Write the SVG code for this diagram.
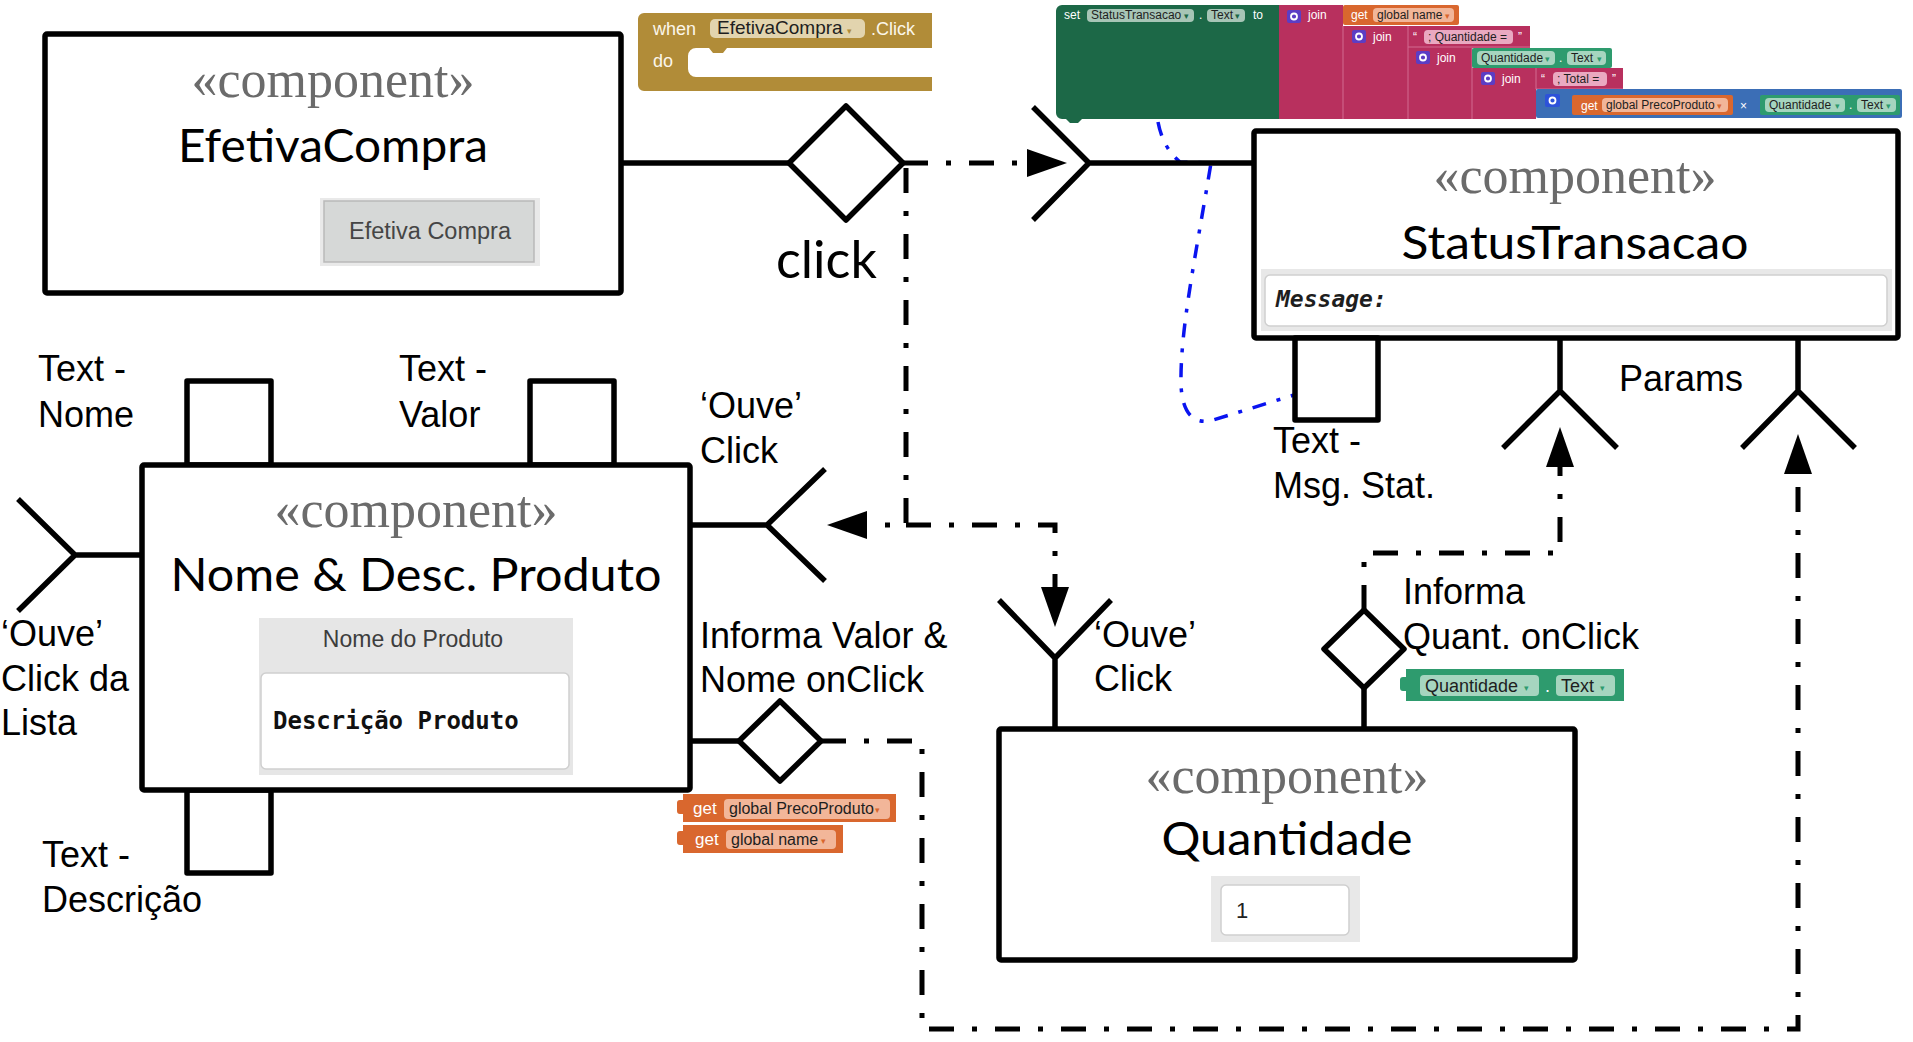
<svg xmlns="http://www.w3.org/2000/svg" width="1913" height="1042" viewBox="0 0 1913 1042">
<style>
.box{fill:#fff;stroke:#000;stroke-width:5.5;stroke-linejoin:round}
.port{fill:#fff;stroke:#000;stroke-width:5.5;stroke-linejoin:round}
.ln{fill:none;stroke:#000;stroke-width:5.5;stroke-linejoin:round}
.dia{fill:#fff;stroke:#000;stroke-width:5.5;stroke-linejoin:round}
.dd{fill:none;stroke:#000;stroke-width:5;stroke-dasharray:25 18 5 18}
.blue{fill:none;stroke:#0a14f0;stroke-width:3.5;stroke-dasharray:14 11 4 11}
.st{font-family:"Liberation Serif",serif;font-size:52px;fill:#6b6b6b;text-anchor:middle}
.tt{font-family:Lato,"Liberation Sans",sans-serif;font-size:46px;fill:#000;text-anchor:middle}
.lb{font-family:"Liberation Sans",Arial,sans-serif;font-size:36px;fill:#000}
.bw{font-family:"Liberation Sans",Arial,sans-serif;font-size:12px;fill:#fff}
.bd{font-family:"Liberation Sans",Arial,sans-serif;font-size:12px;fill:#1e1e1e}
.dv{font-family:"DejaVu Sans",sans-serif;font-size:9px}
.pg{fill:#b8305e}
.gear{fill:#5c3dc4}
.gi{fill:none;stroke:#fff;stroke-width:1.8}
.or{fill:#d9672e}
.orp{fill:#f2b699}
.gr{fill:#2e9b6e}
.grp{fill:#a6d5bf}
.pkp{fill:#eaa9c1}
.sdgp{fill:#a7c5b6}
</style>
<defs>
<marker id="ah" markerUnits="userSpaceOnUse" markerWidth="42" markerHeight="30" refX="0" refY="14" orient="auto">
<path d="M0,0 L40,14 L0,28 Z" fill="#000"/>
</marker>
</defs>

<!-- Blockly: when EfetivaCompra.Click -->
<g id="block-when">
<path d="M644,13 H932 V48 H727 L723,53 H713 L709,48 H696 A8,8 0 0 0 688,56 V69 A8,8 0 0 0 696,77 H932 V91 H644 A6,6 0 0 1 638,85 V19 A6,6 0 0 1 644,13 Z" fill="#b18c38"/>
<text x="653" y="35" font-family="Liberation Sans, Arial, sans-serif" font-size="18" fill="#fbf6ea">when</text>
<rect x="710" y="19" width="155" height="19" rx="5" fill="#e2d4ae"/>
<text x="717" y="34" font-family="Liberation Sans, Arial, sans-serif" font-size="19" fill="#1e1e1e">EfetivaCompra</text>
<text x="847" y="34" class="dv" font-size="13" fill="#b18c38">▾</text>
<text x="871" y="35" font-family="Liberation Sans, Arial, sans-serif" font-size="18" fill="#fbf6ea">.Click</text>
<text x="653" y="67" font-family="Liberation Sans, Arial, sans-serif" font-size="18" fill="#fbf6ea">do</text>
</g>

<!-- Blockly: set StatusTransacao.Text -->
<g id="block-set">
<path d="M1062,5 H1279 V119 H1082 L1078,123 H1070 L1066,119 H1062 A6,6 0 0 1 1056,113 V11 A6,6 0 0 1 1062,5 Z" fill="#1c6847"/>
<text x="1064" y="19" class="bw">set</text>
<rect x="1087" y="9" width="107" height="13" rx="4" class="sdgp"/>
<text x="1091" y="19" class="bd">StatusTransacao</text>
<text x="1184" y="19" class="dv" fill="#1c6847">▾</text>
<text x="1199" y="19" class="bw">.</text>
<rect x="1207" y="9" width="38" height="13" rx="4" class="sdgp"/>
<text x="1211" y="19" class="bd">Text</text>
<text x="1235" y="19" class="dv" fill="#1c6847">▾</text>
<text x="1253" y="19" class="bw">to</text>
<path class="pg" d="M1279,5 H1343 V26 H1530 V48 H1472 V68 H1623 V89 H1536 V119 H1279 Z"/>
<g stroke="#d26b90" stroke-width="1">
<line x1="1343" y1="26" x2="1343" y2="119"/>
<line x1="1408" y1="26" x2="1408" y2="119"/>
<line x1="1472" y1="48" x2="1472" y2="119"/>
<line x1="1408" y1="47" x2="1530" y2="47"/>
<line x1="1536" y1="68" x2="1536" y2="89"/>
<line x1="1536" y1="89" x2="1623" y2="89"/>
</g>
<rect x="1287" y="10" width="14" height="13" rx="2" class="gear"/><circle cx="1294" cy="16.5" r="3" class="gi"/>
<text x="1308" y="19" class="bw">join</text>
<rect x="1343" y="5" width="116" height="20" rx="2" class="or"/>
<text x="1351" y="19" class="bw">get</text>
<rect x="1373" y="8" width="81" height="14" rx="4" class="orp"/>
<text x="1377" y="19" class="bd">global name</text>
<text x="1445" y="19" class="dv" fill="#d9672e">▾</text>
<rect x="1352" y="30" width="14" height="13" rx="2" class="gear"/><circle cx="1359" cy="36.5" r="3" class="gi"/>
<text x="1373" y="41" class="bw">join</text>
<text x="1413" y="41" class="bw">“</text>
<rect x="1424" y="30" width="89" height="14" rx="4" class="pkp"/>
<text x="1428" y="41" class="bd">; Quantidade =</text>
<text x="1518" y="41" class="bw">”</text>
<rect x="1416" y="51" width="14" height="13" rx="2" class="gear"/><circle cx="1423" cy="57.5" r="3" class="gi"/>
<text x="1437" y="62" class="bw">join</text>
<rect x="1472" y="48" width="140" height="20" rx="2" class="gr"/>
<rect x="1477" y="51" width="78" height="14" rx="4" class="grp"/>
<text x="1481" y="62" class="bd">Quantidade</text>
<text x="1545" y="62" class="dv" fill="#2e9b6e">▾</text>
<text x="1559" y="62" class="bw">.</text>
<rect x="1567" y="51" width="39" height="14" rx="4" class="grp"/>
<text x="1571" y="62" class="bd">Text</text>
<text x="1597" y="62" class="dv" fill="#2e9b6e">▾</text>
<rect x="1481" y="72" width="14" height="13" rx="2" class="gear"/><circle cx="1488" cy="78.5" r="3" class="gi"/>
<text x="1502" y="83" class="bw">join</text>
<text x="1541" y="83" class="bw">“</text>
<rect x="1553" y="72" width="54" height="14" rx="4" class="pkp"/>
<text x="1557" y="83" class="bd">; Total =</text>
<text x="1612" y="83" class="bw">”</text>
<rect x="1536" y="89" width="366" height="29" rx="2" fill="#3b6eb6"/>
<rect x="1545" y="94" width="15" height="13" rx="2" fill="#2d52d9"/><circle cx="1552.5" cy="100.5" r="3" class="gi"/>
<rect x="1572" y="95" width="161" height="20" rx="2" class="or"/>
<text x="1581" y="110" class="bw">get</text>
<rect x="1602" y="98" width="126" height="14" rx="4" class="orp"/>
<text x="1606" y="109" class="bd">global PrecoProduto</text>
<text x="1717" y="109" class="dv" fill="#d9672e">▾</text>
<text x="1740" y="110" class="bw">×</text>
<rect x="1760" y="95" width="140" height="20" rx="2" class="gr"/>
<rect x="1765" y="98" width="80" height="14" rx="4" class="grp"/>
<text x="1769" y="109" class="bd">Quantidade</text>
<text x="1835" y="109" class="dv" fill="#2e9b6e">▾</text>
<text x="1849" y="109" class="bw">.</text>
<rect x="1857" y="98" width="39" height="14" rx="4" class="grp"/>
<text x="1861" y="109" class="bd">Text</text>
<text x="1886" y="109" class="dv" fill="#2e9b6e">▾</text>
</g>

<!-- Blockly getters near Nome -->
<g id="block-get-preco">
<path class="or" d="M683,794 H896 V822 H683 V814 H680 A3,3 0 0 1 677,811 V803 A3,3 0 0 1 680,800 H683 Z"/>
<text x="693" y="814" font-family="Liberation Sans, Arial, sans-serif" font-size="17" fill="#fff">get</text>
<rect x="724" y="799" width="166" height="20" rx="4" class="orp"/>
<text x="729" y="814" font-family="Liberation Sans, Arial, sans-serif" font-size="16" fill="#1e1e1e">global PrecoProduto</text>
<text x="875" y="813" class="dv" font-size="12" fill="#d9672e">▾</text>
</g>
<g id="block-get-name">
<path class="or" d="M683,825 H843 V853 H683 V845 H680 A3,3 0 0 1 677,842 V834 A3,3 0 0 1 680,831 H683 Z"/>
<text x="695" y="845" font-family="Liberation Sans, Arial, sans-serif" font-size="17" fill="#fff">get</text>
<rect x="726" y="830" width="110" height="19" rx="4" class="orp"/>
<text x="731" y="845" font-family="Liberation Sans, Arial, sans-serif" font-size="16" fill="#1e1e1e">global name</text>
<text x="821" y="844" class="dv" font-size="12" fill="#d9672e">▾</text>
</g>
<g id="block-quant-text">
<path class="gr" d="M1406,669 H1624 V701 H1406 V691 H1403 A3,3 0 0 1 1400,688 V680 A3,3 0 0 1 1403,677 H1406 Z"/>
<rect x="1420" y="675" width="119" height="21" rx="4" class="grp"/>
<text x="1425" y="692" font-family="Liberation Sans, Arial, sans-serif" font-size="18" fill="#1e1e1e">Quantidade</text>
<text x="1524" y="691" class="dv" font-size="12" fill="#2e9b6e">▾</text>
<text x="1545" y="692" font-family="Liberation Sans, Arial, sans-serif" font-size="18" fill="#fff">.</text>
<rect x="1556" y="675" width="59" height="21" rx="4" class="grp"/>
<text x="1561" y="692" font-family="Liberation Sans, Arial, sans-serif" font-size="18" fill="#1e1e1e">Text</text>
<text x="1600" y="691" class="dv" font-size="12" fill="#2e9b6e">▾</text>
</g>

<!-- Connectors -->
<g id="connectors">
<path class="blue" d="M1158,122 Q1163,148 1180,162 L1211,163 C1195,260 1180,330 1181,385 Q1183,425 1210,421 L1294,395"/>
<path class="ln" d="M621,163 H789"/>
<path class="ln" d="M1033,107 L1089,163 L1033,220 M1089,163 H1254"/>
<path class="ln" d="M689,525 H767 M825,469 L767,525 L825,581"/>
<path class="ln" d="M142,555 H75 M18,499 L75,555 L18,611"/>
<path class="ln" d="M689,741 H739"/>
<path class="ln" d="M1055,729 V658 M999,600 L1055,658 L1111,600"/>
<path class="ln" d="M1364,729 V688"/>
<path class="ln" d="M1560,338 V391 M1503,448 L1560,391 L1617,448"/>
<path class="ln" d="M1798,338 V391 M1742,448 L1798,391 L1855,448"/>
<path class="dd" d="M903,163 H1027" marker-end="url(#ah)"/>
<path class="dd" d="M906,168 V525 H867" marker-end="url(#ah)"/>
<path class="dd" d="M906,525 H1055 V587" marker-end="url(#ah)"/>
<path class="dd" d="M821,741 H922 V1029 H1798 V474" marker-end="url(#ah)"/>
<path class="dd" d="M1364,610 V553 H1560 V467" marker-end="url(#ah)"/>
<path class="dia" d="M789,163 L846,106 L903,163 L846,220 Z"/>
<path class="dia" d="M739,741 L780,701 L821,741 L780,781 Z"/>
<path class="dia" d="M1324,649 L1364,610 L1404,649 L1364,688 Z"/>
<text x="776" y="278" font-family="Lato, 'Liberation Sans', sans-serif" font-size="52" fill="#000">click</text>
</g>

<!-- EfetivaCompra -->
<g id="node-efetivacompra">
<rect class="box" x="45" y="34" width="576" height="259" rx="2"/>
<text class="st" x="333" y="97">«component»</text>
<text class="tt" x="333" y="162" textLength="310" lengthAdjust="spacingAndGlyphs">EfetivaCompra</text>
<rect x="320" y="198" width="220" height="68" fill="#e9e9e9"/>
<rect x="324" y="201" width="210" height="61" fill="#d6d8d7" stroke="#b9b9b9" stroke-width="1.5"/>
<text x="430" y="239" text-anchor="middle" font-family="Liberation Sans, Arial, sans-serif" font-size="23.5" fill="#454545">Efetiva Compra</text>
</g>

<!-- StatusTransacao -->
<g id="node-statustransacao">
<rect class="box" x="1254" y="131" width="644" height="207" rx="2"/>
<text class="st" x="1575" y="193">«component»</text>
<text class="tt" x="1575" y="259" textLength="347" lengthAdjust="spacingAndGlyphs">StatusTransacao</text>
<rect x="1261" y="269" width="631" height="62" fill="#e8e8e8"/>
<rect x="1265" y="275" width="622" height="51" rx="5" fill="#fff" stroke="#cfcfcf" stroke-width="1.5"/>
<text x="1276" y="307" font-family="DejaVu Sans Mono, monospace" font-weight="bold" font-style="italic" font-size="23" fill="#1e1e1e">Message:</text>
<rect class="port" x="1295" y="338" width="83" height="82"/>
<text class="lb" x="1273" y="453">Text -</text>
<text class="lb" x="1273" y="498">Msg. Stat.</text>
<text class="lb" x="1619" y="391">Params</text>
</g>

<!-- Nome & Desc. Produto -->
<g id="node-nome">
<rect class="port" x="187" y="381" width="84" height="84"/>
<rect class="port" x="530" y="381" width="84" height="84"/>
<rect class="port" x="187" y="790" width="84" height="83"/>
<rect class="box" x="142" y="465" width="548" height="325" rx="2"/>
<text class="st" x="416" y="527">«component»</text>
<text class="tt" x="416" y="591" textLength="491" lengthAdjust="spacingAndGlyphs">Nome &amp; Desc. Produto</text>
<rect x="259" y="618" width="314" height="157" fill="#e6e6e6"/>
<text x="413" y="647" text-anchor="middle" font-family="Liberation Sans, Arial, sans-serif" font-size="23" fill="#3d3d3d">Nome do Produto</text>
<rect x="261" y="673" width="308" height="96" rx="5" fill="#fff" stroke="#cfcfcf" stroke-width="1.5"/>
<text x="273" y="729" font-family="DejaVu Sans Mono, monospace" font-weight="bold" font-size="24" fill="#111">Descrição Produto</text>
<text class="lb" x="38" y="381">Text -</text>
<text class="lb" x="38" y="427">Nome</text>
<text class="lb" x="399" y="381">Text -</text>
<text class="lb" x="399" y="427">Valor</text>
<text class="lb" x="700" y="418">‘Ouve’</text>
<text class="lb" x="700" y="463">Click</text>
<text class="lb" x="1" y="646">‘Ouve’</text>
<text class="lb" x="1" y="691">Click da</text>
<text class="lb" x="1" y="735">Lista</text>
<text class="lb" x="42" y="867">Text -</text>
<text class="lb" x="42" y="912">Descrição</text>
<text class="lb" x="700" y="648">Informa Valor &amp;</text>
<text class="lb" x="700" y="692">Nome onClick</text>
</g>

<!-- Quantidade -->
<g id="node-quantidade">
<rect class="box" x="999" y="729" width="576" height="231" rx="2"/>
<text class="st" x="1287" y="793">«component»</text>
<text class="tt" x="1287" y="855" textLength="251" lengthAdjust="spacingAndGlyphs">Quantidade</text>
<rect x="1211" y="876" width="149" height="66" fill="#e8e8e8"/>
<rect x="1221" y="885" width="128" height="50" rx="5" fill="#fff" stroke="#cfcfcf" stroke-width="1.5"/>
<text x="1236" y="918" font-family="Liberation Sans, Arial, sans-serif" font-size="22" fill="#222">1</text>
<text class="lb" x="1094" y="647">‘Ouve’</text>
<text class="lb" x="1094" y="691">Click</text>
<text class="lb" x="1403" y="604">Informa</text>
<text class="lb" x="1403" y="649">Quant. onClick</text>
</g>
</svg>
